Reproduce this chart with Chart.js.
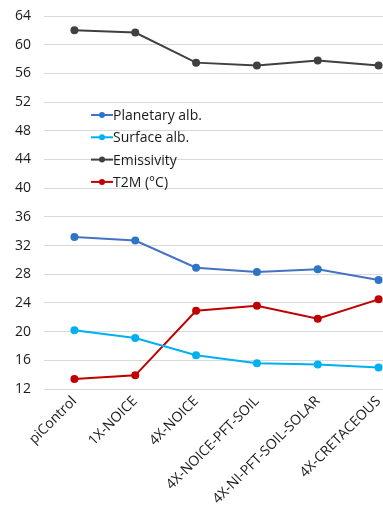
<!DOCTYPE html>
<html>
<head>
<meta charset="utf-8">
<script src="https://cdn.jsdelivr.net/npm/chart.js@4/dist/chart.umd.min.js"></script>
<style>
  html, body { margin: 0; padding: 0; background: #fff; overflow: hidden; }
  #wrap { width: 414px; height: 506px; position: relative; }
</style>
</head>
<body>
<div id="wrap"><canvas id="c" width="414" height="506"></canvas></div>
<script>
// Experiments along the x axis
const categories = ['piControl', '1X-NOICE', '4X-NOICE', '4X-NOICE-PFT-SOIL', '4X-NI-PFT-SOIL-SOLAR', '4X-CRETACEOUS'];

// Series values
const planetaryAlb = [33.2, 32.7, 28.9, 28.3, 28.7, 27.2];
const surfaceAlb   = [20.2, 19.1, 16.7, 15.6, 15.4, 15.0];
const emissivity   = [62.0, 61.7, 57.5, 57.1, 57.8, 57.1];
const t2m          = [13.4, 13.9, 22.9, 23.6, 21.8, 24.5];

// Y axis ticks
const yTicks = [12, 16, 20, 24, 28, 32, 36, 40, 44, 48, 52, 56, 60, 64];

const FONT = "'Open Sans', 'Liberation Sans', sans-serif";

function series(label, data, color, pointColor) {
  return {
    label, data,
    borderColor: color,
    backgroundColor: pointColor,
    pointBackgroundColor: pointColor,
    pointBorderColor: pointColor,
    borderWidth: 2,
    pointRadius: 3,
    pointHoverRadius: 3,
    tension: 0,
    fill: false
  };
}

// Legend drawn inside the plot area
const insideLegend = {
  id: 'insideLegend',
  afterDraw(chart) {
    const ctx = chart.ctx;
    const x0 = 91, y0 = 115, step = 22.3, len = 22;
    ctx.save();
    ctx.font = '14px ' + FONT;
    ctx.textBaseline = 'middle';
    chart.data.datasets.forEach((ds, i) => {
      const y = y0 + i * step;
      ctx.strokeStyle = ds.borderColor;
      ctx.lineWidth = 2;
      ctx.beginPath();
      ctx.moveTo(x0, y);
      ctx.lineTo(x0 + len, y);
      ctx.stroke();
      ctx.fillStyle = ds.pointBackgroundColor;
      ctx.beginPath();
      ctx.arc(x0 + len / 2, y, 3, 0, Math.PI * 2);
      ctx.fill();
      ctx.fillStyle = '#1a1a1a';
      ctx.fillText(ds.label, x0 + len, y + 1);
    });
    ctx.restore();
  }
};

new Chart(document.getElementById('c'), {
  type: 'line',
  data: {
    labels: categories,
    datasets: [
      series('Planetary alb.', planetaryAlb, '#4472C4', '#2E75C6'),
      series('Surface alb.', surfaceAlb, '#00B0F0', '#00B0F0'),
      series('Emissivity', emissivity, '#404040', '#404040'),
      series('T2M (°C)', t2m, '#C00000', '#C00000')
    ]
  },
  options: {
    responsive: false,
    animation: false,
    layout: { padding: { top: 16, right: 0, left: 0, bottom: 0 } },
    plugins: { legend: { display: false }, tooltip: { enabled: false } },
    scales: {
      x: {
        offset: true,
        grid: { display: false, drawTicks: false },
        border: { display: false },
        ticks: {
          minRotation: 45, maxRotation: 45,
          color: '#1a1a1a',
          padding: 4,
          font: { family: FONT, size: 14 }
        },
        afterFit(axis) { axis.height = 117; }
      },
      y: {
        min: 12, max: 64,
        afterBuildTicks(axis) { axis.ticks = yTicks.map(v => ({ value: v })); },
        grid: { color: '#D9D9D9', lineWidth: 1, drawTicks: false },
        border: { display: false },
        ticks: {
          color: '#1a1a1a',
          padding: 13,
          font: { family: FONT, size: 14 }
        },
        afterFit(axis) { axis.width = 44; axis.paddingTop = 0; axis.paddingBottom = 0; }
      }
    }
  },
  plugins: [insideLegend]
});
</script>
</body>
</html>
